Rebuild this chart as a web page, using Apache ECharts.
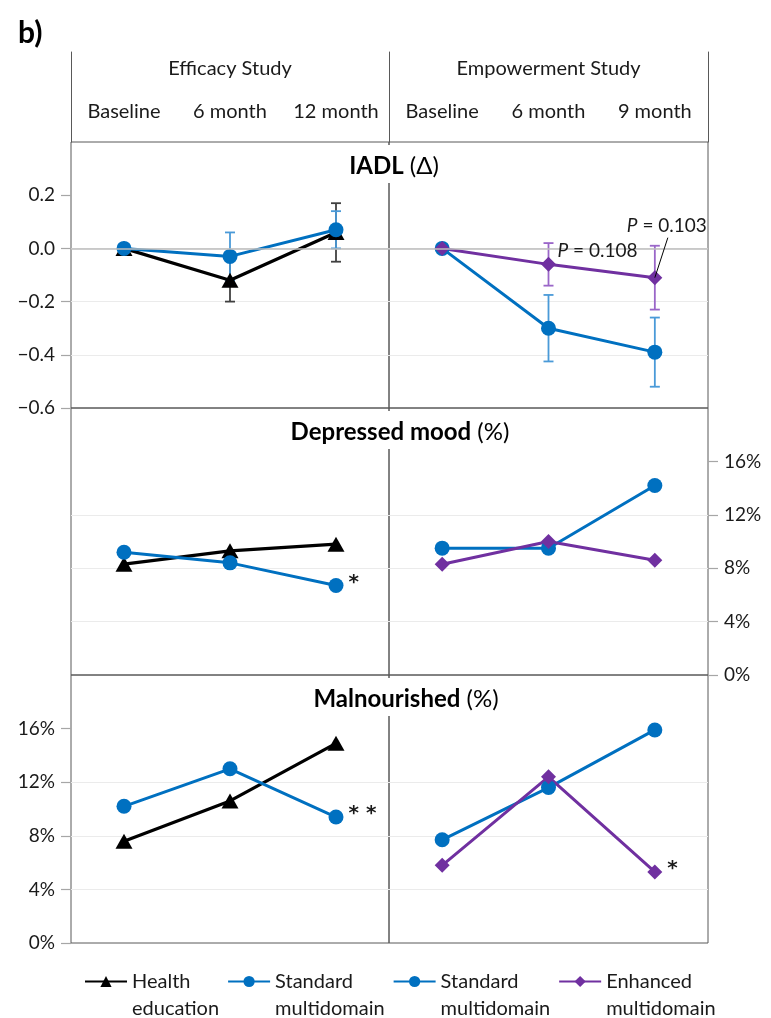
<!DOCTYPE html>
<html><head><meta charset="utf-8">
<script src="https://cdn.jsdelivr.net/npm/echarts@6/dist/echarts.min.js"></script>
<style>html,body{margin:0;padding:0;background:#fff}#c{width:771px;height:1018px}</style>
</head><body><div id="c"></div>
<script>
// ---------- data ----------
const efficacyCats = ['Baseline', '6 month', '12 month'];
const empowerCats  = ['Baseline', '6 month', '9 month'];
const studyNames   = ['Efficacy Study', 'Empowerment Study'];
const panelTitles  = [['IADL', ' (Δ)'], ['Depressed mood', ' (%)'], ['Malnourished', ' (%)']];
const iadlTicks    = [-0.6, -0.4, -0.2, 0, 0.2];
const pctTicks     = [0, 4, 8, 12, 16];
const seriesNames  = ['Health education', 'Standard multidomain (Efficacy)', 'Standard multidomain (Empowerment)', 'Enhanced multidomain'];
const legendLabels = ['Health\neducation', 'Standard\nmultidomain', 'Standard\nmultidomain', 'Enhanced\nmultidomain'];

// IADL change (mean, error half-width)
const iadlHealth    = [0, -0.12, 0.06];
const iadlHealthErr = [null, 0.08, 0.11];
const iadlStdEff    = [0, -0.03, 0.07];
const iadlStdEffErr = [null, 0.09, 0.07];
const iadlStdEmp    = [0, -0.30, -0.39];
const iadlStdEmpErr = [null, 0.125, 0.13];
const iadlEnh       = [0, -0.06, -0.11];
const iadlEnhErr    = [null, 0.08, 0.12];
const annoPoints    = [[1, -0.06], [2, -0.11]];
const annoTexts     = ['0.108', '0.103'];

// Depressed mood (%)
const depHealth = [8.3, 9.3, 9.8];
const depStdEff = [9.2, 8.4, 6.7];
const depStdEmp = [9.5, 9.5, 14.2];
const depEnh    = [8.3, 10.0, 8.6];

// Malnourished (%)
const malHealth = [7.6, 10.6, 14.9];
const malStdEff = [10.2, 13.0, 9.4];
const malStdEmp = [7.7, 11.6, 15.9];
const malEnh    = [5.8, 12.4, 5.3];

// significance marks: [index, mark]
const sigDepStdEff = [2, '*'];
const sigMalStdEff = [2, '* *'];
const sigMalEnh    = [2, '*'];

// ---------- styles ----------
const FONT = 'Lato';
const TXT = '#1a1a1a';
const FRAME = '#595959';
const BLACK = '#000000', BLUE = '#0070c0', PURPLE = '#7030a0';
const ERR = { [BLACK]: '#404040', [BLUE]: '#4a9ad8', [PURPLE]: '#9a66c8' };

const chart = echarts.init(document.getElementById('c'), null, { renderer: 'canvas' });

const colL = 71, colM = 389, colR = 708;
const rowTops = [142, 408, 675], rowBottom = 943;
const titleCenters = [394, 400, 406];

const grids = [
  { left: colL, top: 52, width: colM - colL, height: 90, show: false },
  { left: colM, top: 52, width: colR - colM, height: 90, show: false }
];
for (let r = 0; r < 3; r++) {
  const top = rowTops[r], h = (r < 2 ? rowTops[r + 1] : rowBottom) - top;
  for (let c = 0; c < 2; c++) {
    grids.push({
      left: c === 0 ? colL : colM, top: top,
      width: c === 0 ? colM - colL : colR - colM, height: h,
      show: true, borderColor: FRAME, borderWidth: 1, backgroundColor: 'rgba(0,0,0,0)'
    });
  }
}

const xAxes = [
  { gridIndex: 0, type: 'category', data: efficacyCats, show: false },
  { gridIndex: 1, type: 'category', data: empowerCats, show: false }
];
for (let p = 0; p < 6; p++) {
  const c = p % 2, r = Math.floor(p / 2);
  const ax = {
    gridIndex: 2 + p, type: 'category', data: c === 0 ? efficacyCats : empowerCats,
    axisLine: { show: false }, axisTick: { show: false }, splitLine: { show: false },
    axisLabel: { show: false }
  };
  if (r === 0) {
    Object.assign(ax, {
      position: 'top',
      axisLabel: { show: true, interval: 0, fontSize: 20, margin: 20, color: TXT, fontFamily: FONT },
      name: studyNames[c], nameLocation: 'middle', nameGap: 63,
      nameTextStyle: { fontSize: 20, color: TXT, fontFamily: FONT }
    });
  }
  xAxes.push(ax);
}

const hdrY = pos => ({
  type: 'value', position: pos, axisLine: { show: true, lineStyle: { color: FRAME, width: 1 } },
  axisTick: { show: false }, axisLabel: { show: false }, splitLine: { show: false }
});
const yAxes = [
  Object.assign({ gridIndex: 0 }, hdrY('left')),
  Object.assign({ gridIndex: 1 }, hdrY('left')),
  Object.assign({ gridIndex: 1 }, hdrY('right'))
];
const fmtIadl = v => (Math.abs(v) < 1e-9 ? '0.0' : (v < 0 ? '\u2212' : '') + Math.abs(v).toFixed(1));
const fmtPct = v => Math.round(v) + '%';
const split = { show: true, showMinLine: false, showMaxLine: false, lineStyle: { color: '#ebebeb', width: 1 } };
for (let p = 0; p < 6; p++) {
  const c = p % 2, r = Math.floor(p / 2);
  const iadl = r === 0;
  const showLabels = (r === 0 && c === 0) || (r === 1 && c === 1) || (r === 2 && c === 0);
  const ticks = iadl ? iadlTicks : pctTicks;
  yAxes.push({
    gridIndex: 2 + p, type: 'value',
    position: (r === 1 && c === 1) ? 'right' : 'left',
    min: iadl ? -0.6 : 0, max: iadl ? 0.4 : 20, interval: iadl ? 0.2 : 4,
    axisLine: { show: false },
    axisTick: { show: showLabels, length: 10, lineStyle: { color: '#a6a6a6', width: 1.2 }, customValues: ticks },
    axisLabel: { show: showLabels, customValues: ticks, formatter: iadl ? fmtIadl : fmtPct,
      fontSize: 19, color: TXT, fontFamily: FONT, margin: 16 },
    splitLine: split
  });
}

const styles = {
  'Health education': { color: BLACK, symbol: 'triangle', size: [17, 15], width: 3.2 },
  'Standard multidomain (Efficacy)': { color: BLUE, symbol: 'circle', size: 15, width: 3 },
  'Standard multidomain (Empowerment)': { color: BLUE, symbol: 'circle', size: 15, width: 3 },
  'Enhanced multidomain': { color: PURPLE, symbol: 'diamond', size: 15, width: 3 }
};

const series = [];
function addLine(name, p, values, sig) {
  const st = styles[name];
  const data = values.map((v, i) => {
    if (sig && sig[0] === i) {
      return { value: v, label: { show: true, position: 'right', distance: 5, formatter: sig[1],
        fontSize: 20, fontWeight: 'bold', color: TXT, fontFamily: 'DejaVu Sans', offset: [0, -3] } };
    }
    return v;
  });
  series.push({
    type: 'line', name: name, xAxisIndex: 2 + p, yAxisIndex: 3 + p, data: data,
    symbol: st.symbol, symbolSize: st.size, showSymbol: true,
    lineStyle: { color: st.color, width: st.width }, itemStyle: { color: st.color, opacity: 1 },
    z: 3, animation: false, emphasis: { disabled: true }
  });
}
function addErr(name, p, values, errs) {
  const st = styles[name];
  const data = [];
  values.forEach((v, i) => { if (errs[i] != null) data.push([i, v - errs[i], v + errs[i]]); });
  const col = ERR[st.color];
  series.push({
    type: 'custom', name: name + ' err', xAxisIndex: 2 + p, yAxisIndex: 3 + p, data: data,
    encode: { x: 0, y: [1, 2] }, z: 2, animation: false, silent: true,
    renderItem: (params, api) => {
      const x = api.value(0);
      const a = api.coord([x, api.value(2)]), b = api.coord([x, api.value(1)]);
      const w = 5, s = { stroke: col, lineWidth: 1.8 };
      return { type: 'group', children: [
        { type: 'line', shape: { x1: a[0], y1: a[1], x2: b[0], y2: b[1] }, style: s },
        { type: 'line', shape: { x1: a[0] - w, y1: a[1], x2: a[0] + w, y2: a[1] }, style: s },
        { type: 'line', shape: { x1: b[0] - w, y1: b[1], x2: b[0] + w, y2: b[1] }, style: s }
      ] };
    }
  });
}
function addZero(p) {
  series.push({
    type: 'line', name: 'zero' + p, xAxisIndex: 2 + p, yAxisIndex: 3 + p, data: [], z: 1,
    markLine: { silent: true, symbol: ['none', 'none'], label: { show: false },
      lineStyle: { color: '#bdbdbd', width: 1.6, type: 'solid' }, data: [{ yAxis: 0 }], animation: false }
  });
}

// Row 1: IADL
addZero(0); addZero(1);
addErr(seriesNames[0], 0, iadlHealth, iadlHealthErr);
addErr(seriesNames[1], 0, iadlStdEff, iadlStdEffErr);
addLine(seriesNames[0], 0, iadlHealth);
addLine(seriesNames[1], 0, iadlStdEff);
addErr(seriesNames[2], 1, iadlStdEmp, iadlStdEmpErr);
addErr(seriesNames[3], 1, iadlEnh, iadlEnhErr);
addLine(seriesNames[2], 1, iadlStdEmp);
addLine(seriesNames[3], 1, iadlEnh);
// P-value annotations
series.push({
  type: 'custom', name: 'anno', xAxisIndex: 3, yAxisIndex: 4, data: annoPoints, z: 5, silent: true, animation: false,
  renderItem: (params, api) => {
    const pt = api.coord([api.value(0), api.value(1)]);
    const i = params.dataIndex;
    const txtStyle = { text: '{i|P} = ' + annoTexts[i], fill: TXT, fontSize: 19, fontFamily: FONT,
      verticalAlign: 'middle', rich: { i: { fontStyle: 'italic', fontSize: 19, fontFamily: FONT, fill: TXT } } };
    if (i === 0) {
      return { type: 'text', x: pt[0] + 9, y: pt[1] - 13, style: Object.assign({ align: 'left' }, txtStyle) };
    }
    return { type: 'group', children: [
      { type: 'text', x: pt[0] + 12, y: pt[1] - 52, style: Object.assign({ align: 'center' }, txtStyle) },
      { type: 'line', shape: { x1: pt[0], y1: pt[1], x2: pt[0] + 13, y2: pt[1] - 40 }, style: { stroke: '#000', lineWidth: 1 } }
    ] };
  }
});

// Row 2: Depressed mood
addLine(seriesNames[0], 2, depHealth);
addLine(seriesNames[1], 2, depStdEff, sigDepStdEff);
addLine(seriesNames[2], 3, depStdEmp);
addLine(seriesNames[3], 3, depEnh);

// Row 3: Malnourished
addLine(seriesNames[0], 4, malHealth);
addLine(seriesNames[1], 4, malStdEff, sigMalStdEff);
addLine(seriesNames[2], 5, malStdEmp);
addLine(seriesNames[3], 5, malEnh, sigMalEnh);

const titles = [{ text: 'b)', left: 13, top: 13, textStyle: { fontSize: 30, fontWeight: 'bold', color: '#000', fontFamily: FONT } }];
panelTitles.forEach((t, r) => {
  const padL = 8;
  titles.push({
    text: '{b|' + t[0] + '}{n|' + t[1] + '}', left: titleCenters[r] - padL, top: rowTops[r] + 1,
    textAlign: 'center',
    padding: [9, 8, 5, padL], backgroundColor: '#ffffff',
    textStyle: { rich: {
      b: { fontSize: 24, fontWeight: 'bold', color: '#000', fontFamily: FONT, lineHeight: 28 },
      n: { fontSize: 24, fontWeight: 'normal', color: '#000', fontFamily: FONT, lineHeight: 28 }
    } }
  });
});

chart.setOption({
  animation: false,
  textStyle: { fontFamily: FONT },
  title: titles,
  grid: grids, xAxis: xAxes, yAxis: yAxes, series: series,
  legend: {
    data: seriesNames, left: 79, top: 936, itemWidth: 42, itemHeight: 14, itemGap: 8,
    selectedMode: false,
    formatter: n => '\n' + legendLabels[seriesNames.indexOf(n)],
    textStyle: { fontSize: 20, lineHeight: 27, align: 'left', color: TXT, fontFamily: FONT }
  }
});
</script></body></html>
